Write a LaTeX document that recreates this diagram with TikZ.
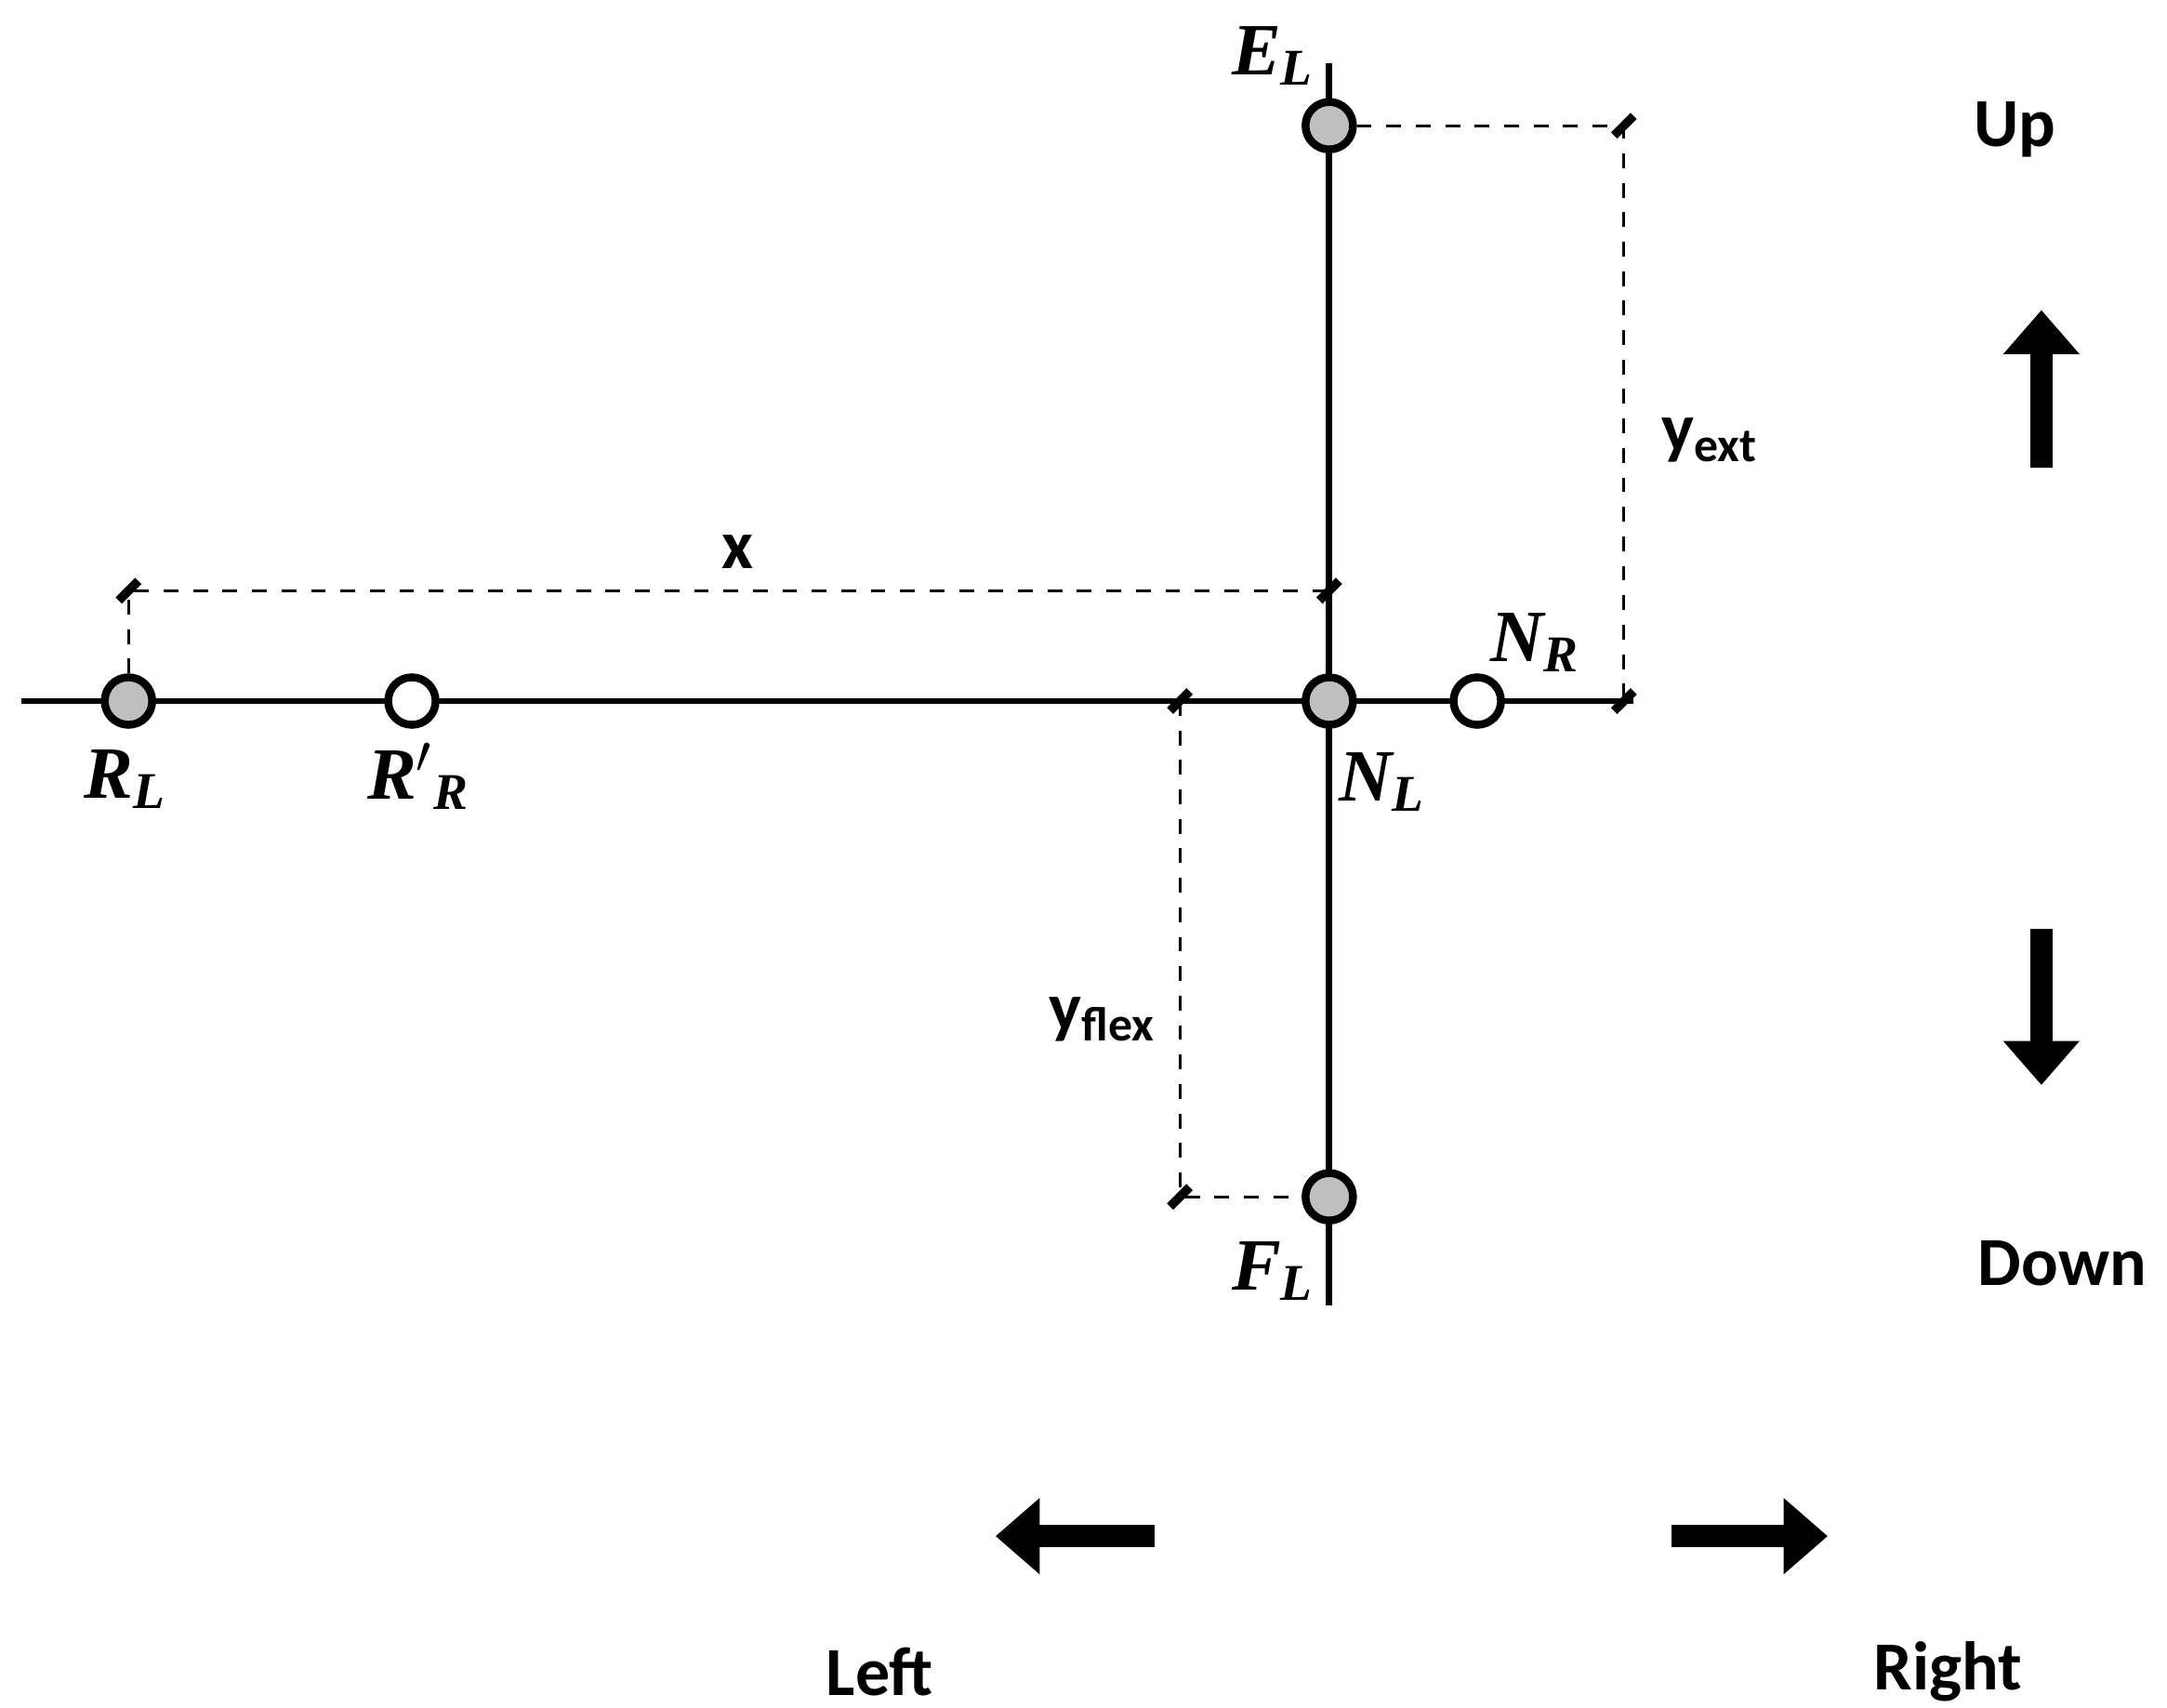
\documentclass[tikz,border=0pt]{standalone}
\usepackage{fontspec}
\usetikzlibrary{arrows.meta,calc}
\setmainfont{Carlito}
\newfontfamily\lab{Liberation Serif}
\begin{document}
\begin{tikzpicture}[x=0.01cm,y=-0.01cm,
  pt/.style={circle,draw,line width=1.6pt,minimum size=0.34cm,inner sep=0pt},
  gp/.style={pt,fill=gray!50},
  wp/.style={pt,fill=white},
  dim/.style={dashed,line width=0.6pt},
  tk/.style={line width=1.8pt},
  big/.style={font=\fontsize{14}{16}\selectfont\bfseries},
  ml/.style={font=\lab\fontsize{15}{17}\selectfont\bfseries\itshape},
  thk/.style={line width=4.5pt,-{Triangle[length=9pt,width=15pt]}}]
\useasboundingbox (0,0) rectangle (1552,1223);
\draw[line width=1.3pt] (15,502) -- (1170,502);
\draw[line width=1.3pt] (952,45) -- (952,935);
\coordinate (x1) at (92,423); \coordinate (x2) at (952,423);
\coordinate (e2) at (1163,90); \coordinate (e3) at (1163,502);
\coordinate (f1) at (845,502); \coordinate (f2) at (845,857);
\node[gp] (RL) at (92,502) {};
\node[wp] (RR) at (295,502) {};
\node[gp] (NL) at (952,502) {};
\node[wp] (NR) at (1058,502) {};
\node[gp] (EL) at (952,90) {};
\node[gp] (FL) at (952,857) {};
\draw[dim] (RL) -- (x1) -- (x2) -- (NL);
\draw[dim] (EL) -- (e2) -- (e3);
\draw[dim] (f1) -- (f2) -- (FL);
\foreach \c in {x1,x2,e2,e3,f1,f2}
  \draw[tk] ($(\c)+(-7,7)$) -- ($(\c)+(7,-7)$);
\node[ml] (tEL) at (912,40) {E\textsubscript{L}};
\node[ml] (tRL) at (90,558) {R\textsubscript{L}};
\node[ml] (tRR) at (300,556) {R$'$\textsubscript{R}};
\node[ml] (tNL) at (990,560) {N\textsubscript{L}};
\node[ml] (tNR) at (1100,460) {N\textsubscript{R}};
\node[ml] (tFL) at (912,910) {F\textsubscript{L}};
\node[big] (tx) at (528,395) {x};
\node[big] (ty1) at (1225,315) {y\textsubscript{ext}};
\node[big] (ty2) at (790,730) {y\textsubscript{flex}};
\node[big] (up) at (1443,93) {Up};
\node[big] (dn) at (1477,905) {Down};
\node[big] (lf) at (630,1197) {Left};
\node[big] (rt) at (1395,1197) {Right};
\coordinate (a1) at (1462,335); \coordinate (a2) at (1462,222);
\coordinate (b1) at (1462,665); \coordinate (b2) at (1462,777);
\coordinate (c1) at (827,1100); \coordinate (c2) at (713,1100);
\coordinate (d1) at (1197,1100); \coordinate (d2) at (1309,1100);
\draw[thk] (a1) -- (a2);
\draw[thk] (b1) -- (b2);
\draw[thk] (c1) -- (c2);
\draw[thk] (d1) -- (d2);
\end{tikzpicture}
\end{document}
